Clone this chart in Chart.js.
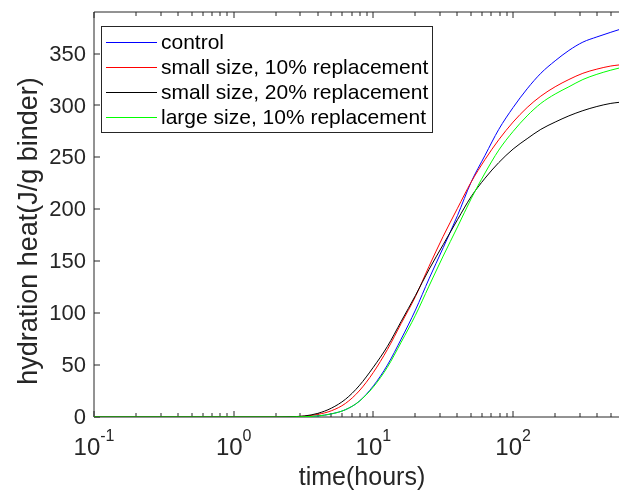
<!DOCTYPE html>
<html>
<head>
<meta charset="utf-8">
<script src="https://cdn.jsdelivr.net/npm/chart.js@4.4.1/dist/chart.umd.min.js"></script>
<style>
  html, body { margin: 0; padding: 0; background: #fff; }
  #wrap { width: 619px; height: 492px; }
</style>
</head>
<body>
<div id="wrap"><canvas id="heatChart" width="619" height="492"></canvas></div>
<script>
// time axis (hours) and the four hydration heat curves (J/g binder)
var hours   = [0.1, 1, 2, 2.5, 3.2, 4, 5, 6.3, 7.9, 10, 12.6, 15.8, 20, 25, 31.6, 40, 50, 63, 79, 100, 126, 158, 200, 251, 316, 398, 501, 573];
var control = [0, 0, 0, 0, 0.3, 1, 3, 7, 15, 30, 50, 75, 103, 133, 163, 194, 226, 252, 277, 298, 316, 331, 343, 353, 361, 366, 370.5, 373];
var small10 = [0, 0, 0, 0, 0.8, 2.5, 6, 13, 25, 43, 65, 90, 116, 145, 174, 201, 226, 248, 267, 284, 298, 309, 318, 325, 331, 335, 338, 339];
var small20 = [0, 0, 0, 0.2, 1, 3.5, 8.5, 17, 30, 48, 68, 92, 117, 142, 166, 190, 212, 230, 245, 258, 268, 277, 284, 290, 295, 299, 302, 303];
var large10 = [0, 0, 0, 0, 0.3, 1, 3, 7, 15, 29, 48, 72, 98, 126, 155, 183, 210, 235, 257, 275, 290, 302, 311, 318, 325, 330, 334, 336];

var seriesNames  = ['control', 'small size, 10% replacement', 'small size, 20% replacement', 'large size, 10% replacement'];
var seriesColors = ['#0000ff', '#ff0000', '#000000', '#00ff00'];

// ticks
var yTicks = [0, 50, 100, 150, 200, 250, 300, 350];
var xDecades = [0.1, 1, 10, 100];
var xDecadeLabels = [['10', '-1'], ['10', '0'], ['10', '1'], ['10', '2']];

var FONT = '"Liberation Sans", Arial, sans-serif';
var AXIS_COL = '#262626';

function pts(vals) {
    return hours.map(function(t, i) { return { x: t, y: vals[i] }; });
}

// axes box, ticks, labels (drawn under the curves)
var axesPlugin = {
    id: 'axesPlugin',
    beforeDatasetsDraw: function(chart) {
        var ctx = chart.ctx, a = chart.chartArea;
        var xs = chart.scales.x, ys = chart.scales.y;
        ctx.save();
        ctx.strokeStyle = AXIS_COL;
        ctx.lineWidth = 1;
        ctx.beginPath();
        ctx.moveTo(a.right + 2, a.top); ctx.lineTo(a.left, a.top);
        ctx.lineTo(a.left, a.bottom); ctx.lineTo(a.right + 2, a.bottom);
        ctx.stroke();

        // x ticks (major + minor), bottom and top
        ctx.beginPath();
        for (var d = 0; d < xDecades.length; d++) {
            for (var m = 1; m <= 9; m++) {
                var v = xDecades[d] * m;
                if (v > xs.max) break;
                var px = Math.round(xs.getPixelForValue(v));
                var len = (m === 1) ? 6 : 4;
                ctx.moveTo(px, a.bottom); ctx.lineTo(px, a.bottom - len);
                ctx.moveTo(px, a.top); ctx.lineTo(px, a.top + len);
            }
        }
        // y ticks
        yTicks.forEach(function(v) {
            var py = Math.round(ys.getPixelForValue(v));
            ctx.moveTo(a.left, py); ctx.lineTo(a.left + 6, py);
        });
        ctx.stroke();

        // y tick labels
        ctx.fillStyle = AXIS_COL;
        ctx.font = '22px ' + FONT;
        ctx.textAlign = 'right';
        ctx.textBaseline = 'middle';
        yTicks.forEach(function(v) {
            ctx.fillText(String(v), a.left - 8, ys.getPixelForValue(v) + 1);
        });

        // x tick labels: 10 with superscript exponent
        ctx.textBaseline = 'alphabetic';
        ctx.textAlign = 'left';
        xDecades.forEach(function(v, i) {
            var base = xDecadeLabels[i][0], exp = xDecadeLabels[i][1];
            ctx.font = '24px ' + FONT;
            var wb = ctx.measureText(base).width;
            ctx.font = '16px ' + FONT;
            var we = ctx.measureText(exp).width;
            var x0 = xs.getPixelForValue(v) - (wb + we) / 2;
            ctx.font = '24px ' + FONT;
            ctx.fillText(base, x0, 455);
            ctx.font = '16px ' + FONT;
            ctx.fillText(exp, x0 + wb, 441);
        });

        // axis titles
        ctx.textAlign = 'center';
        ctx.textBaseline = 'middle';
        ctx.font = '25px ' + FONT;
        ctx.fillText('time(hours)', 362, 478);
        ctx.save();
        ctx.translate(30, 231);
        ctx.rotate(-Math.PI / 2);
        ctx.font = '27px ' + FONT;
        ctx.fillText('hydration heat(J/g binder)', 0, 0);
        ctx.restore();
        ctx.restore();
    },
    // legend box on top of everything
    afterDatasetsDraw: function(chart) {
        var ctx = chart.ctx;
        ctx.save();
        ctx.fillStyle = '#ffffff';
        ctx.fillRect(101.5, 26.5, 331, 106);
        ctx.strokeStyle = AXIS_COL;
        ctx.lineWidth = 1;
        ctx.strokeRect(101.5, 26.5, 331, 106);
        ctx.font = '21px ' + FONT;
        ctx.textAlign = 'left';
        ctx.textBaseline = 'middle';
        for (var i = 0; i < seriesNames.length; i++) {
            var yy = 42.5 + i * 25;
            ctx.strokeStyle = seriesColors[i];
            ctx.beginPath();
            ctx.moveTo(106, yy); ctx.lineTo(157, yy);
            ctx.stroke();
            ctx.fillStyle = '#000000';
            ctx.fillText(seriesNames[i], 161, yy + 1);
        }
        ctx.restore();
    }
};

var datasets = [control, small10, small20, large10].map(function(vals, i) {
    return {
        label: seriesNames[i],
        data: pts(vals),
        borderColor: seriesColors[i],
        borderWidth: 1,
        pointRadius: 0,
        fill: false,
        cubicInterpolationMode: 'monotone',
        order: 4 - i
    };
});

var ctx = document.getElementById('heatChart');
var heatChart = new Chart(ctx, {
    type: 'line',
    data: { datasets: datasets },
    options: {
        responsive: false,
        animation: false,
        devicePixelRatio: 1,
        layout: { padding: { left: 94, right: 0, top: 12, bottom: 75 } },
        plugins: { legend: { display: false }, tooltip: { enabled: false } },
        scales: {
            x: { type: 'logarithmic', min: 0.1, max: 573, display: false },
            y: { type: 'linear', min: 0, max: 390, display: false }
        }
    },
    plugins: [axesPlugin]
});
</script>
</body>
</html>
